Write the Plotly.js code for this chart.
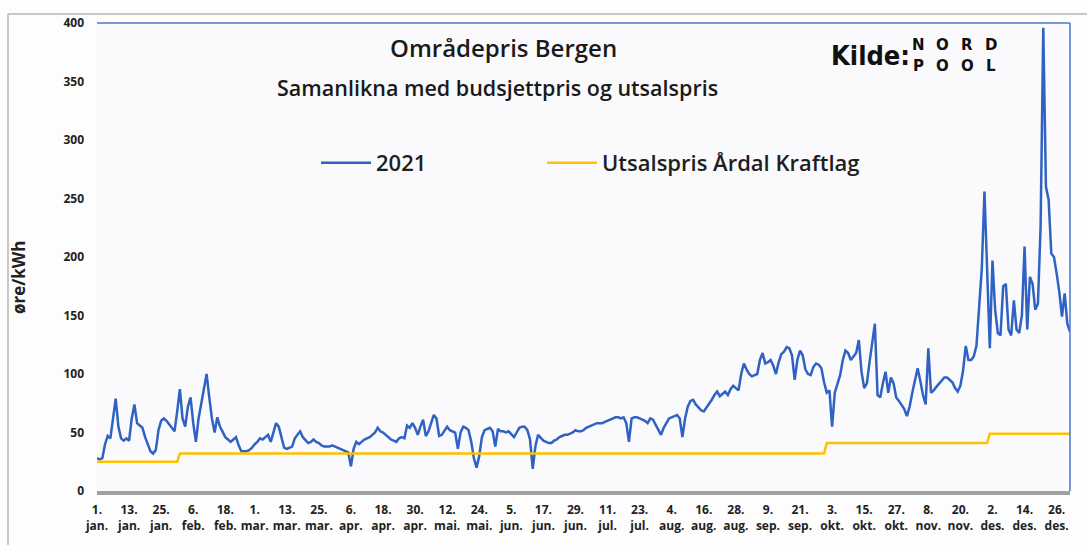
<!DOCTYPE html>
<html>
<head>
<meta charset="utf-8">
<script src="https://cdn.plot.ly/plotly-3.0.1.min.js"></script>
<style>
html,body{margin:0;padding:0;background:#fdfdfd;}
#chart{width:1087px;height:545px;}
</style>
</head>
<body>
<div id="chart"></div>
<script>
// Daily area price Bergen 2021 (øre/kWh), one array per month
const jan = [28,27,28,40,47,45,62,79,55,45,43,45,43,62,74,58,56,54,46,40,34,32,35,52,60,62,60,57,54,51,68];
const feb = [87,62,55,72,80,58,42,62,74,88,100,80,62,50,63,55,50,46,44,42,44,46,39,34,34,34,35,37];
const mar = [40,42,45,44,46,48,42,51,58,55,45,37,36,37,38,45,48,51,46,43,41,42,44,42,41,39,38,38,38,39,38];
const apr = [37,36,35,34,33,21,36,42,40,42,44,45,46,48,50,54,51,50,48,46,44,43,42,45,46,45,56,54,58,54];
const mai = [48,55,61,47,51,58,65,62,47,48,52,55,52,51,50,36,50,55,54,52,42,28,20,30,46,52,53,54,51,38,53];
const jun = [51,51,50,51,48,46,50,54,55,55,52,44,19,38,48,45,43,42,41,41,43,44,46,47,48,48,49,50,52,51];
const jul = [51,52,54,55,56,57,58,58,58,59,60,61,62,63,63,62,63,58,42,62,63,63,62,61,60,58,62,61,57,52,48];
const aug = [54,58,62,63,64,65,62,46,62,72,77,78,74,71,69,68,71,75,78,82,85,81,83,85,82,87,90,88,86,100,109];
const sep = [104,100,98,99,100,112,118,109,110,112,107,100,110,117,119,123,122,116,95,112,120,116,104,100,99,106,109,108,105,93];
const okt = [84,86,55,84,92,99,112,120,118,112,115,118,129,102,88,92,110,125,143,82,80,92,102,84,97,92,80,77,74,70,64];
const nov = [72,84,95,105,94,82,74,122,84,86,89,92,95,97,97,95,93,88,85,90,103,124,112,112,115,124,155,190,256,183];
const des = [122,197,155,135,133,175,177,138,133,163,138,135,150,209,138,183,177,155,160,226,396,260,249,203,200,186,170,149,169,143,136];

// Retail price Årdal Kraftlag per month (øre/kWh)
const utsalspris = [25,32,32,32,32,32,32,32,32,41,41,49];

// Tick labels on the x axis
const tickDates = ['2021-01-01','2021-01-13','2021-01-25','2021-02-06','2021-02-18','2021-03-01','2021-03-13','2021-03-25','2021-04-06','2021-04-18','2021-04-30','2021-05-12','2021-05-24','2021-06-05','2021-06-17','2021-06-29','2021-07-11','2021-07-23','2021-08-04','2021-08-16','2021-08-28','2021-09-09','2021-09-21','2021-10-03','2021-10-15','2021-10-27','2021-11-08','2021-11-20','2021-12-02','2021-12-14','2021-12-26'];
const tickLabels = ['1.<br>jan.','13.<br>jan.','25.<br>jan.','6.<br>feb.','18.<br>feb.','1.<br>mar.','13.<br>mar.','25.<br>mar.','6.<br>apr.','18.<br>apr.','30.<br>apr.','12.<br>mai.','24.<br>mai.','5.<br>jun.','17.<br>jun.','29.<br>jun.','11.<br>jul.','23.<br>jul.','4.<br>aug.','16.<br>aug.','28.<br>aug.','9.<br>sep.','21.<br>sep.','3.<br>okt.','15.<br>okt.','27.<br>okt.','8.<br>nov.','20.<br>nov.','2.<br>des.','14.<br>des.','26.<br>des.'];

// Logo letters
const logoTop = ['N','O','R','D'];
const logoBottom = ['P','O','O','L'];

const months = [jan,feb,mar,apr,mai,jun,jul,aug,sep,okt,nov,des];
const x = [], y2021 = [], yUts = [];
months.forEach((arr, m) => {
  arr.forEach((v, i) => {
    const mm = String(m + 1).padStart(2, '0');
    const dd = String(i + 1).padStart(2, '0');
    x.push('2021-' + mm + '-' + dd);
    y2021.push(v);
    yUts.push(utsalspris[m]);
  });
});

const L = 97, R = 1070, T = 23, B = 491, W = 1087, H = 545;
const px = v => (v - L) / (R - L);
const py = v => (B - v) / (B - T);

const traces = [
  {x: x, y: y2021, type: 'scatter', mode: 'lines', name: '2021', legend: 'legend',
   line: {color: '#2f62c2', width: 2.5}},
  {x: x, y: yUts, type: 'scatter', mode: 'lines', name: 'Utsalspris Årdal Kraftlag', legend: 'legend2',
   line: {color: '#ffc000', width: 2.5}}
];

const tf = {family: 'Open Sans, sans-serif', size: 12, color: '#222', weight: 700};
const lf = {family: 'Open Sans, sans-serif', size: 22, color: '#1e1e1e', weight: 600};

const annotations = [
  {text: 'Områdepris Bergen', xref: 'paper', yref: 'paper', x: px(503), y: py(47), showarrow: false,
   xanchor: 'center', yanchor: 'middle', font: {family: 'Open Sans, sans-serif', size: 24, color: '#1a1a1a', weight: 600}},
  {text: 'Samanlikna med budsjettpris og utsalspris', xref: 'paper', yref: 'paper', x: px(497), y: py(88), showarrow: false,
   xanchor: 'center', yanchor: 'middle', font: {family: 'Open Sans, sans-serif', size: 21.5, color: '#1a1a1a', weight: 600}},
  {text: 'Kilde:', xref: 'paper', yref: 'paper', x: px(870), y: py(56), showarrow: false,
   xanchor: 'center', yanchor: 'middle', font: {family: 'Liberation Sans Narrow, DejaVu Sans Condensed, sans-serif', size: 27, color: '#111', weight: 700}},
  {text: 'øre/kWh', xref: 'paper', yref: 'paper', x: px(18), y: py(278), showarrow: false, textangle: -90,
   xanchor: 'center', yanchor: 'middle', font: {family: 'Open Sans, sans-serif', size: 17, color: '#222', weight: 700}}
];
const logoX = [918, 942, 967, 991];
const logoFont = {family: 'DejaVu Sans, sans-serif', size: 15, color: '#111', weight: 700};
logoTop.forEach((c, i) => annotations.push({text: c, xref: 'paper', yref: 'paper', x: px(logoX[i]), y: py(45),
  showarrow: false, xanchor: 'center', yanchor: 'middle', font: logoFont}));
logoBottom.forEach((c, i) => annotations.push({text: c, xref: 'paper', yref: 'paper', x: px(logoX[i]), y: py(66),
  showarrow: false, xanchor: 'center', yanchor: 'middle', font: logoFont}));

const layout = {
  width: W, height: H,
  margin: {l: L, r: W - R, t: T, b: H - B},
  paper_bgcolor: '#fdfdfd',
  plot_bgcolor: '#fafafc',
  showlegend: true,
  legend: {orientation: 'h', x: px(316), xanchor: 'left', y: py(163), yanchor: 'middle',
           bgcolor: 'rgba(0,0,0,0)', font: lf, itemwidth: 50},
  legend2: {orientation: 'h', x: px(542), xanchor: 'left', y: py(163), yanchor: 'middle',
           bgcolor: 'rgba(0,0,0,0)', font: lf, itemwidth: 50},
  xaxis: {type: 'date', range: ['2021-01-01', '2021-12-31'], tickmode: 'array',
          tickvals: tickDates, ticktext: tickLabels, tickangle: 0,
          showgrid: false, zeroline: false, showline: true, linecolor: '#a0a0a0', linewidth: 4,
          ticks: '', tickfont: tf, ticklabelstandoff: 5},
  yaxis: {range: [0, 400], tickmode: 'array', tickvals: [0,50,100,150,200,250,300,350,400],
          showgrid: false, zeroline: false, showline: false, ticks: '', tickfont: tf,
          ticklabelstandoff: 12},
  shapes: [
    {type: 'line', xref: 'paper', yref: 'paper', x0: 0, x1: 1, y0: 1, y1: 1, line: {color: '#4a78c8', width: 1.5}},
    {type: 'line', xref: 'paper', yref: 'paper', x0: 1, x1: 1, y0: 0, y1: 1, line: {color: '#4a78c8', width: 1.5}},
    {type: 'line', xref: 'paper', yref: 'paper', x0: px(8), x1: px(1087), y0: py(14), y1: py(14), line: {color: '#c8c8c8', width: 2}},
    {type: 'line', xref: 'paper', yref: 'paper', x0: px(8), x1: px(8), y0: py(14), y1: py(545), line: {color: '#c8c8c8', width: 2}}
  ],
  annotations: annotations
};

Plotly.newPlot('chart', traces, layout, {displayModeBar: false});
</script>
</body>
</html>
